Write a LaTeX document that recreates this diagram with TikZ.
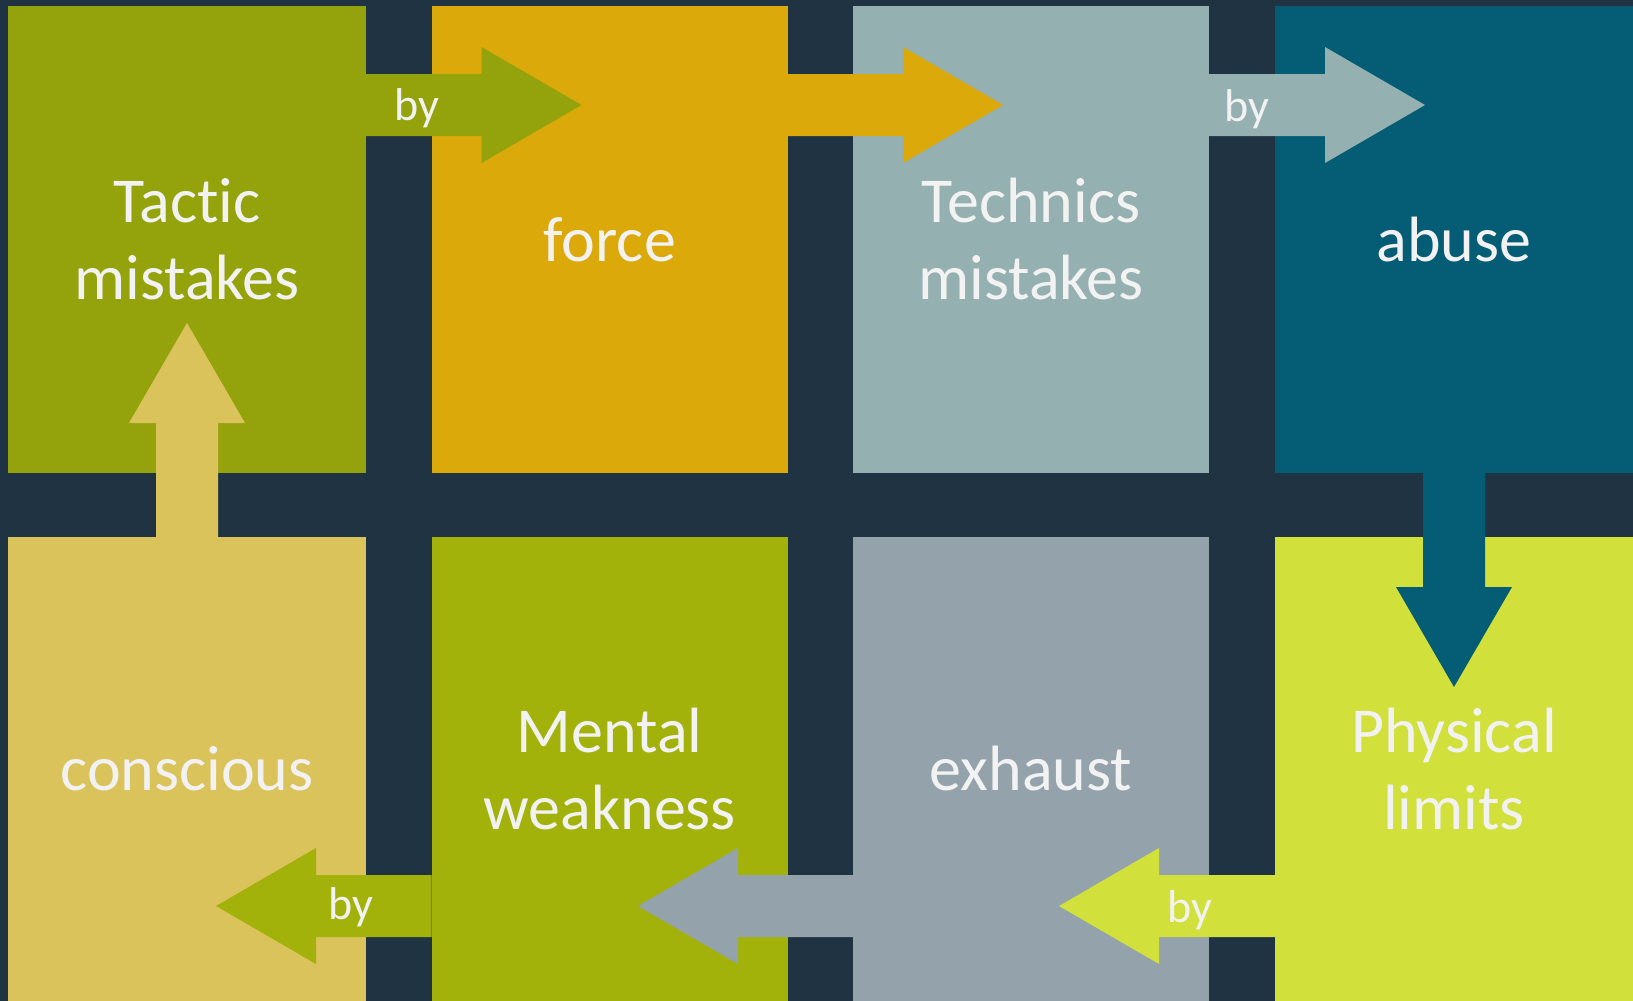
\documentclass[tikz,border=0pt]{standalone}
\usepackage{fontspec}
\setmainfont{Carlito}[Ligatures={NoCommon}]
\usetikzlibrary{calc}
\definecolor{bg}{HTML}{1F3343}
\definecolor{cA}{HTML}{94A20C}
\definecolor{cB}{HTML}{DBA90A}
\definecolor{cC}{HTML}{95B0B0}
\definecolor{cD}{HTML}{055D75}
\definecolor{cE}{HTML}{DBC35B}
\definecolor{cF}{HTML}{A2B20A}
\definecolor{cG}{HTML}{94A3AB}
\definecolor{cH}{HTML}{D1E03B}
\definecolor{txt}{HTML}{F2F2F2}
\newcommand{\blockarrow}[3]{%
  \path[fill=#1] let \p1=(#2), \p2=(#3),
    \n1={atan2(\y2-\y1,\x2-\x1)}, \n2={veclen(\x2-\x1,\y2-\y1)} in
    {[shift={(\p1)}, rotate=\n1]
      (0,-31) -- (\n2-100,-31) -- (\n2-100,-58) -- (\n2,0) --
      (\n2-100,58) -- (\n2-100,31) -- (0,31) -- cycle};}
\begin{document}
\begin{tikzpicture}[x=1pt,y=-1pt,
  box/.style={draw=none, inner sep=0pt, outer sep=0pt, align=center,
    text=txt, font=\fontsize{64}{77}\selectfont},
  bylabel/.style={inner sep=0pt, anchor=base, text=txt,
    font=\fontsize{46}{55}\selectfont}]
\path[use as bounding box, fill=bg] (0,0) rectangle (1633,1001);
% top row
\node[box, fill=cA, minimum width=358, minimum height=467] (b1) at (187,239.5) {Tactic\\mistakes};
\node[box, fill=cB, minimum width=356.5, minimum height=467] (b2) at (609.75,239.5) {force};
\node[box, fill=cC, minimum width=356, minimum height=467] (b3) at (1031,239.5) {Technics\\mistakes};
\node[box, fill=cD, minimum width=358, minimum height=467] (b4) at (1454,239.5) {abuse};
% bottom row
\node[box, fill=cE, minimum width=358, minimum height=464] (b5) at (187,769) {conscious};
\node[box, fill=cF, minimum width=356.5, minimum height=464] (b6) at (609.75,769) {Mental\\weakness};
\node[box, fill=cG, minimum width=356, minimum height=464] (b7) at (1031,769) {exhaust};
\node[box, fill=cH, minimum width=358, minimum height=464] (b8) at (1454,769) {Physical\\limits};
% arrow end points
\coordinate (s1) at ($(b1.north east)+(0,99)$);
\coordinate (t1) at ($(b2.north west)+(150,99)$);
\coordinate (s2) at ($(b2.north east)+(0,99)$);
\coordinate (t2) at ($(b3.north west)+(150,99)$);
\coordinate (s3) at ($(b3.north east)+(0,99)$);
\coordinate (t3) at ($(b4.north west)+(150,99)$);
\coordinate (s4) at (b4.south);
\coordinate (t4) at ($(b8.north)+(0,150)$);
\coordinate (s5) at ($(b8.south west)+(0,-95)$);
\coordinate (t5) at ($(b7.south east)+(-150,-95)$);
\coordinate (s6) at ($(b7.south west)+(0,-95)$);
\coordinate (t6) at ($(b6.south east)+(-150,-95)$);
\coordinate (s7) at ($(b6.south west)+(0,-95)$);
\coordinate (t7) at ($(b5.south east)+(-150,-95)$);
\coordinate (s8) at (b5.north);
\coordinate (t8) at ($(b1.south)+(0,-150)$);
% arrows
\blockarrow{cA}{s1}{t1}
\blockarrow{cB}{s2}{t2}
\blockarrow{cC}{s3}{t3}
\blockarrow{cD}{s4}{t4}
\blockarrow{cH}{s5}{t5}
\blockarrow{cG}{s6}{t6}
\blockarrow{cF}{s7}{t7}
\blockarrow{cE}{s8}{t8}
% labels
\node[bylabel] (by1) at (417,120) {by};
\node[bylabel] (by3) at (1247,121) {by};
\node[bylabel] (by5) at (1190,922) {by};
\node[bylabel] (by7) at (351,919) {by};
\end{tikzpicture}
\end{document}
